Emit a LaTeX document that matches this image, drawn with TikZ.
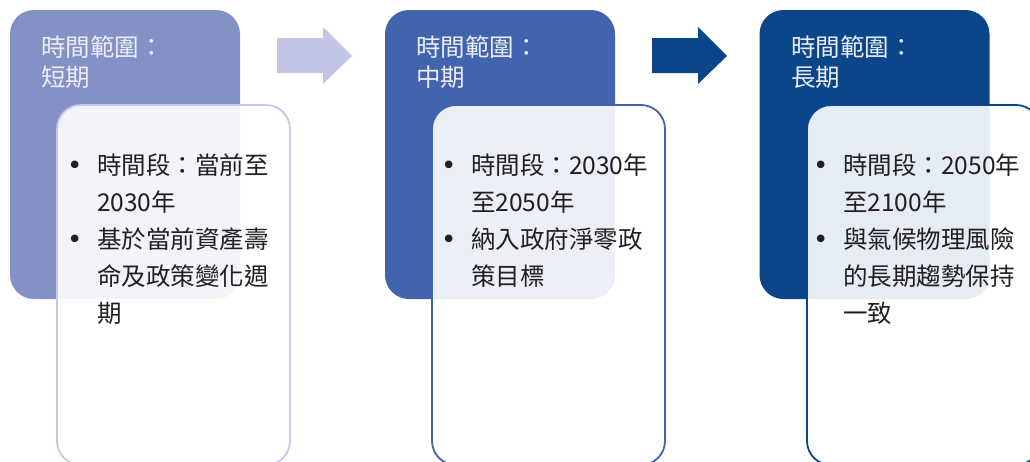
\documentclass[tikz,border=0pt]{standalone}
\usepackage{fontspec}
\setmainfont{Noto Sans CJK TC}
\newfontfamily\bulfont{DejaVu Sans}
\definecolor{cA}{HTML}{8491C7}
\definecolor{cAl}{HTML}{C1C6E5}
\definecolor{cAb}{HTML}{C3C9E8}
\definecolor{cB}{HTML}{4263AD}
\definecolor{cC}{HTML}{0A4689}
\definecolor{txt}{HTML}{231F20}
\definecolor{ttltxt}{HTML}{ECEEF7}
\newcommand{\bul}{\makebox[30pt][l]{\bulfont\fontsize{26}{26}\selectfont •}}
\newcommand{\ind}{\hspace*{30pt}}
\tikzset{
  dbox/.style={rectangle, rounded corners=24pt, minimum width=230pt, minimum height=289pt, inner sep=0pt, draw=none},
  lbox/.style={rectangle, rounded corners=24pt, minimum width=233pt, minimum height=360pt, inner sep=0pt, fill=white, fill opacity=0.9, line width=1.8pt},
  ttl/.style={anchor=base west, align=left, inner sep=0pt, text=ttltxt, font=\fontsize{24.5}{30}\selectfont},
  body/.style={anchor=base west, align=left, inner sep=0pt, text=txt, font=\fontsize{24.5}{37}\selectfont},
}
\begin{document}
\begin{tikzpicture}[x=1pt,y=-1pt]
\useasboundingbox (0,0) rectangle (1030,461);
\clip (0,0) rectangle (1030,461);
% panel 1
\node[dbox, fill=cA] (d1) at (125,154.5) {};
\node[ttl] (t1) at (41,86) {時間範圍：\\短期};
\node[lbox, draw=cAb] (l1) at (173.5,285) {};
\node[body] (b1) at (67,322) {\bul 時間段：當前至\\\ind 2030年\\\bul 基於當前資產壽\\\ind 命及政策變化週\\\ind 期};
% arrow 1
\fill[cAl] (277,38) -- (323,38) -- (323,27) -- (352,56) -- (323,84) -- (323,73) -- (277,73) -- cycle;
% panel 2
\node[dbox, fill=cB] (d2) at (500,154.5) {};
\node[ttl] (t2) at (416,86) {時間範圍：\\中期};
\node[lbox, draw=cB] (l2) at (548.5,285) {};
\node[body] (b2) at (441,285) {\bul 時間段：2030年\\\ind 至2050年\\\bul 納入政府淨零政\\\ind 策目標};
% arrow 2
\fill[cC] (652,38) -- (698,38) -- (698,27) -- (727,56) -- (698,84) -- (698,73) -- (652,73) -- cycle;
% panel 3
\node[dbox, fill=cC] (d3) at (874.5,154.5) {};
\node[ttl] (t3) at (791,86) {時間範圍：\\長期};
\node[lbox, draw=cC] (l3) at (923.5,285) {};
\node[body] (b3) at (813,322) {\bul 時間段：2050年\\\ind 至2100年\\\bul 與氣候物理風險\\\ind 的長期趨勢保持\\\ind 一致};
\end{tikzpicture}
\end{document}
